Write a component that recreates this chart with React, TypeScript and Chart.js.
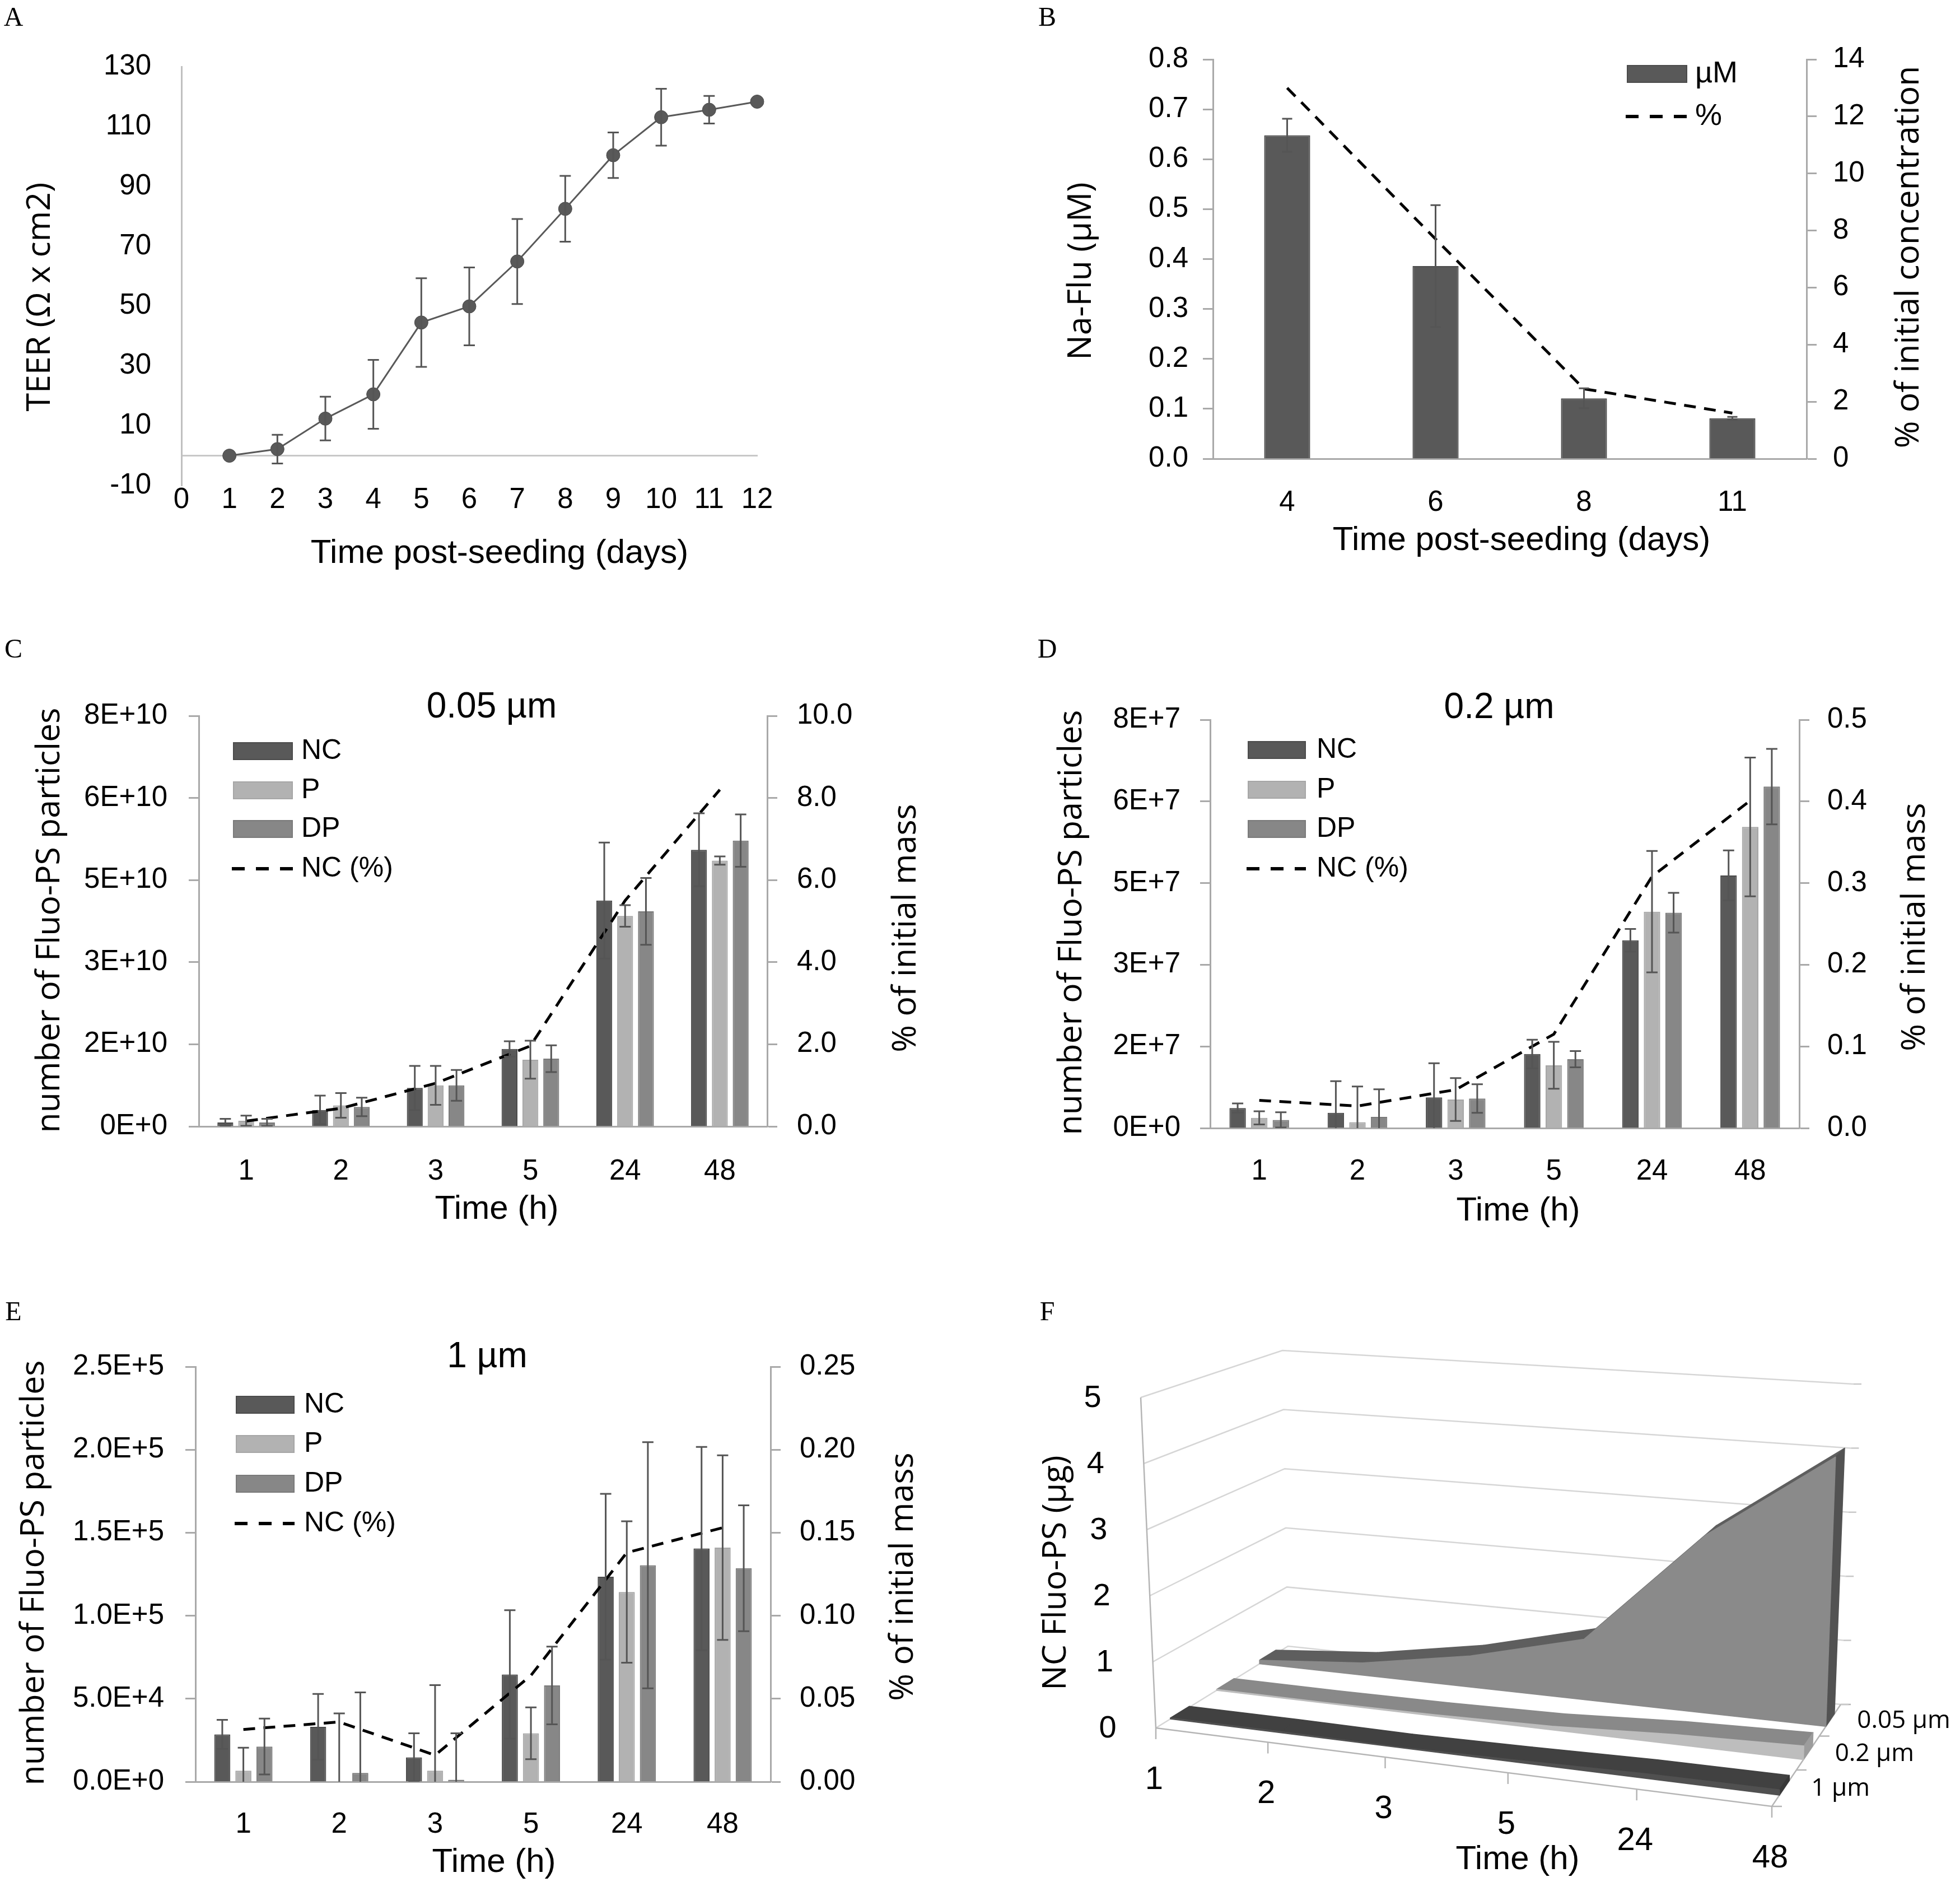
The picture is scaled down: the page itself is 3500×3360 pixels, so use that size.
import React, { useEffect, useRef } from 'react';
import { Chart, registerables } from 'chart.js';

Chart.register(...registerables);

// ---------------- DATA ----------------
// Panel A – TEER over time
const teerDays = [1, 2, 3, 4, 5, 6, 7, 8, 9, 10, 11, 12];
const teerValues = [0, 2.2, 12.4, 20.5, 44.5, 49.9, 64.9, 82.5, 100.4, 113.1, 115.6, 118.3];
const teerErrors = [0, 4.8, 7.3, 11.5, 14.8, 13.0, 14.2, 11.0, 7.6, 9.5, 4.6, 0];

// Panel B – Na-Flu permeability
const naFluDays = ['4', '6', '8', '11'];
const naFluMicroM = [0.648, 0.386, 0.121, 0.081];
const naFluErrors = [0.033, 0.122, 0.02, 0.003];
const naFluPercent = [13.0, 7.7, 2.45, 1.6];

// Panels C–F
const timeHours = ['1', '2', '3', '5', '24', '48'];

// C – 0.05 µm
const c005NC = [0.076e10, 0.32e10, 0.75e10, 1.51e10, 4.40e10, 5.39e10];
const c005NCErr = [0.07e10, 0.28e10, 0.43e10, 0.15e10, 1.13e10, 0.71e10];
const c005P = [0.11e10, 0.41e10, 0.80e10, 1.30e10, 4.10e10, 5.18e10];
const c005PErr = [0.10e10, 0.24e10, 0.38e10, 0.37e10, 0.21e10, 0.08e10];
const c005DP = [0.076e10, 0.38e10, 0.80e10, 1.32e10, 4.19e10, 5.57e10];
const c005DPErr = [0.07e10, 0.18e10, 0.30e10, 0.26e10, 0.65e10, 0.51e10];
const c005NCPct = [0.13, 0.44, 1.05, 1.96, 5.5, 8.2];

// D – 0.2 µm
const d02NC = [0.393e7, 0.30e7, 0.60e7, 1.45e7, 3.68e7, 4.95e7];
const d02NCErr = [0.09e7, 0.62e7, 0.67e7, 0.28e7, 0.22e7, 0.49e7];
const d02P = [0.20e7, 0.116e7, 0.56e7, 1.23e7, 4.24e7, 5.90e7];
const d02PErr = [0.13e7, 0.70e7, 0.42e7, 0.46e7, 1.19e7, 1.36e7];
const d02DP = [0.16e7, 0.22e7, 0.58e7, 1.35e7, 4.22e7, 6.69e7];
const d02DPErr = [0.15e7, 0.54e7, 0.28e7, 0.16e7, 0.39e7, 0.74e7];
const d02NCPct = [0.034, 0.027, 0.047, 0.115, 0.308, 0.401];

// E – 1 µm
const e1NC = [0.285e5, 0.331e5, 0.147e5, 0.646e5, 1.235e5, 1.405e5];
const e1NCErr = [0.088e5, 0.198e5, 0.145e5, 0.387e5, 0.499e5, 0.612e5];
const e1P = [0.067e5, 0.002e5, 0.067e5, 0.292e5, 1.143e5, 1.41e5];
const e1PErr = [0.138e5, 0.41e5, 0.515e5, 0.156e5, 0.426e5, 0.556e5];
const e1DP = [0.212e5, 0.053e5, 0.012e5, 0.58e5, 1.304e5, 1.286e5];
const e1DPErr = [0.168e5, 0.485e5, 0.28e5, 0.234e5, 0.741e5, 0.379e5];
const e1NCPct = [0.0315, 0.036, 0.016, 0.064, 0.138, 0.153];

// F – NC Fluo-PS mass (µg)
const fSizeLabels = ['0.05 µm', '0.2 µm', '1 µm'];
const f005Mass = [0.06, 0.2, 0.5, 0.95, 2.75, 4.1];
const f02Mass = [0.017, 0.013, 0.024, 0.057, 0.15, 0.2];
const f1Mass = [0.016, 0.018, 0.008, 0.032, 0.069, 0.077];
const fValueTicks = [0, 1, 2, 3, 4, 5];

// ---------------- STYLE ----------------
const SANS = "'Liberation Sans', Arial, sans-serif";
const OPEN = "'Open Sans', 'Noto Sans', sans-serif";
const SERIF = "'Liberation Serif', 'Times New Roman', serif";
const TICK_FONT = { family: SANS, size: 51, lineHeight: 1.2 };
const GREY = '#a9a9a9';
const NC_FILL = '#595959', NC_STROKE = '#4b4b4b';
const P_FILL = '#b2b2b2', P_STROKE = '#a6a6a6';
const DP_FILL = '#878787', DP_STROKE = '#7a7a7a';
const ERR_COLOR = '#555555';
const ROT = -Math.PI / 2;

// ---------------- PLUGINS ----------------
function makeTextPlugin(items: any[], ox: number, oy: number) {
  return {
    id: 'pageTexts',
    afterDraw(chart: any) {
      const ctx = chart.ctx;
      for (const it of items) {
        ctx.save();
        ctx.translate(it.x - ox, it.y - oy);
        if (it.rot) ctx.rotate(it.rot);
        ctx.font = it.font;
        ctx.fillStyle = it.color || '#000';
        ctx.textAlign = it.align || 'center';
        ctx.textBaseline = 'middle';
        ctx.fillText(it.text, 0, 0);
        ctx.restore();
      }
    },
  };
}

function makeLegendPlugin(items: any[], ox: number, oy: number) {
  return {
    id: 'pageLegend',
    afterDraw(chart: any) {
      const ctx = chart.ctx;
      for (const it of items) {
        const x = it.x - ox;
        const y = it.y - oy;
        ctx.save();
        if (it.kind === 'box') {
          ctx.fillStyle = it.fill;
          ctx.fillRect(x, y - it.h / 2, it.w, it.h);
          ctx.strokeStyle = it.stroke;
          ctx.lineWidth = 2;
          ctx.strokeRect(x + 1, y - it.h / 2 + 1, it.w - 2, it.h - 2);
        } else {
          ctx.strokeStyle = '#000';
          ctx.lineWidth = 6;
          ctx.setLineDash([23, 20]);
          ctx.beginPath();
          ctx.moveTo(x, y);
          ctx.lineTo(x + it.w, y);
          ctx.stroke();
          ctx.setLineDash([]);
        }
        ctx.fillStyle = '#000';
        ctx.font = it.font;
        ctx.textAlign = 'left';
        ctx.textBaseline = 'middle';
        ctx.fillText(it.label, it.tx - ox, y);
        ctx.restore();
      }
    },
  };
}

const errorBarPlugin = {
  id: 'errorBars',
  afterDatasetsDraw(chart: any) {
    const ctx = chart.ctx;
    const area = chart.chartArea;
    chart.data.datasets.forEach((ds: any, di: number) => {
      const errs = ds.errors;
      if (!errs) return;
      const meta = chart.getDatasetMeta(di);
      const ys = chart.scales[meta.yAxisID];
      const cap = ds.errorCap || 10;
      ctx.save();
      ctx.beginPath();
      ctx.rect(area.left - 40, area.top - 40, area.right - area.left + 80, area.bottom - area.top + 40);
      ctx.clip();
      ctx.strokeStyle = ERR_COLOR;
      ctx.lineWidth = 3;
      meta.data.forEach((el: any, i: number) => {
        const e = errs[i];
        if (!e) return;
        const v = meta.controller.getParsed(i).y;
        const x = el.x;
        const yt = ys.getPixelForValue(v + e);
        const yb = ys.getPixelForValue(v - e);
        ctx.beginPath();
        ctx.moveTo(x, yt);
        ctx.lineTo(x, yb);
        ctx.moveTo(x - cap, yt);
        ctx.lineTo(x + cap, yt);
        ctx.moveTo(x - cap, yb);
        ctx.lineTo(x + cap, yb);
        ctx.stroke();
      });
      ctx.restore();
    });
  },
};

// ---------------- LAYOUT ----------------
const RA = { x: 0, y: 0, w: 1700, h: 1100 };
const AA = { l: 324, t: 119, r: 1352, b: 867 };
const RB = { x: 1700, y: 0, w: 1800, h: 1100 };
const AB = { l: 2166, t: 106, r: 3226, b: 819 };
const RC = { x: 0, y: 1100, w: 1750, h: 1180 };
const AC = { l: 355, t: 1278, r: 1370, b: 2011 };
const RD = { x: 1750, y: 1100, w: 1750, h: 1180 };
const AD = { l: 2161, t: 1285, r: 3213, b: 2014 };
const RE = { x: 0, y: 2280, w: 1750, h: 1080 };
const AE = { l: 349, t: 2440, r: 1376, b: 3181 };
const RF = { x: 1750, y: 2280, w: 1750, h: 1080 };

// ---------------- PANEL A ----------------
function buildA() {
  const R = RA, A = AA;
  const texts = [
    { text: 'A', x: 24, y: 33, font: `48px ${SERIF}` },
    { text: 'TEER (Ω x cm2)', x: 72, y: 530, font: `59px ${OPEN}`, rot: ROT },
    { text: 'Time post-seeding (days)', x: 892, y: 988, font: `60px ${SANS}` },
  ];
  return {
    type: 'line',
    data: {
      datasets: [
        {
          data: teerDays.map((d, i) => ({ x: d, y: teerValues[i] })),
          errors: teerErrors,
          errorCap: 10,
          xAxisID: 'x',
          yAxisID: 'y',
          borderColor: '#595959',
          borderWidth: 3,
          pointRadius: 12,
          pointBackgroundColor: '#595959',
          pointBorderColor: '#4a4a4a',
          pointBorderWidth: 1,
          clip: false,
        },
      ],
    },
    options: {
      responsive: false,
      animation: false,
      events: [],
      layout: { padding: { top: A.t - R.y, right: R.x + R.w - A.r, left: 0, bottom: 0 } },
      scales: {
        x: {
          type: 'linear', min: 0, max: 12,
          ticks: { stepSize: 1, maxTicksLimit: 20, padding: -5, font: TICK_FONT, color: '#000' },
          grid: { display: false, drawTicks: false },
          border: { display: false },
          afterFit: (s: any) => { s.height = R.y + R.h - A.b; },
        },
        x0: {
          type: 'linear', axis: 'x', position: { y: 0 }, min: 0, max: 12,
          ticks: { display: false },
          grid: { display: false, drawTicks: false },
          border: { display: true, color: '#c8c8c8', width: 3 },
        },
        y: {
          type: 'linear', position: 'left', min: -10, max: 130,
          ticks: { stepSize: 20, maxTicksLimit: 11, padding: 54, font: TICK_FONT, color: '#000' },
          grid: { display: false, drawTicks: false },
          border: { display: true, color: '#c0c0c0', width: 3 },
          afterFit: (s: any) => { s.width = A.l - R.x; },
        },
      },
      plugins: { legend: { display: false }, tooltip: { enabled: false } },
    },
    plugins: [errorBarPlugin, makeTextPlugin(texts, R.x, R.y)],
  };
}

// ---------------- BAR PANELS (B–E) ----------------
function barConfig(o: any) {
  const R = o.rect, A = o.area;
  const yTick = (pad: number, fmt: any, step: number, lim: number) => ({
    stepSize: step, maxTicksLimit: lim, padding: pad, font: TICK_FONT, color: '#000', callback: (v: any) => fmt(Number(v)),
  });
  const yGrid = { display: true, drawOnChartArea: false, drawTicks: true, tickLength: 18, tickWidth: 3, tickColor: GREY };
  return {
    type: 'bar',
    data: {
      labels: o.labels,
      datasets: [
        {
          type: 'line', label: o.line.label, data: o.line.data, yAxisID: 'y2', xAxisID: 'x',
          borderColor: '#000', borderWidth: 5, borderDash: [21, 15], pointRadius: 0, fill: false, clip: false, order: 0,
        },
        ...o.bars.map((b: any) => ({
          type: 'bar', label: b.label, data: b.data, errors: b.errors, errorCap: o.cap, yAxisID: 'y', xAxisID: 'x',
          backgroundColor: b.fill, borderColor: b.stroke, borderWidth: 2,
          barPercentage: o.barPct, categoryPercentage: o.catPct, order: 1,
        })),
      ],
    },
    options: {
      responsive: false,
      animation: false,
      events: [],
      layout: { padding: { top: A.t - R.y, left: 0, right: 0, bottom: 0 } },
      scales: {
        x: {
          type: 'category', offset: true,
          ticks: { font: TICK_FONT, color: '#000', padding: o.xPad },
          grid: { display: false, drawTicks: false },
          border: { display: true, color: GREY, width: 3 },
          afterFit: (s: any) => { s.height = R.y + R.h - A.b; },
        },
        y: {
          type: 'linear', position: 'left', min: 0, max: o.y.max,
          ticks: yTick(o.y.pad, o.y.fmt, o.y.step, o.y.lim),
          grid: yGrid,
          border: { display: true, color: GREY, width: 3 },
          afterFit: (s: any) => { s.width = A.l - R.x; },
        },
        y2: {
          type: 'linear', position: 'right', min: 0, max: o.y2.max,
          ticks: yTick(o.y2.pad, o.y2.fmt, o.y2.step, o.y2.lim),
          grid: yGrid,
          border: { display: true, color: GREY, width: 3 },
          afterFit: (s: any) => { s.width = R.x + R.w - A.r; },
        },
      },
      plugins: { legend: { display: false }, tooltip: { enabled: false } },
    },
    plugins: [errorBarPlugin, makeTextPlugin(o.texts, R.x, R.y), makeLegendPlugin(o.legend, R.x, R.y)],
  };
}

const expFmt0 = (v: number) => (v === 0 ? '0E+0' : v.toExponential(0).replace('e', 'E'));
const expFmt1 = (v: number) => v.toExponential(1).replace('e', 'E');

function tripleLegend(boxX: number, textX: number, ys: number[], w: number) {
  const font = `50px ${SANS}`;
  return [
    { kind: 'box', x: boxX, y: ys[0], w, h: 32, fill: NC_FILL, stroke: NC_STROKE, label: 'NC', tx: textX, font },
    { kind: 'box', x: boxX, y: ys[1], w, h: 32, fill: P_FILL, stroke: P_STROKE, label: 'P', tx: textX, font },
    { kind: 'box', x: boxX, y: ys[2], w, h: 32, fill: DP_FILL, stroke: DP_STROKE, label: 'DP', tx: textX, font },
    { kind: 'dash', x: boxX - 2, y: ys[3], w: w + 2, label: 'NC (%)', tx: textX, font },
  ];
}

function tripleBars(nc: number[], ncE: number[], p: number[], pE: number[], dp: number[], dpE: number[]) {
  return [
    { label: 'NC', data: nc, errors: ncE, fill: NC_FILL, stroke: NC_STROKE },
    { label: 'P', data: p, errors: pE, fill: P_FILL, stroke: P_STROKE },
    { label: 'DP', data: dp, errors: dpE, fill: DP_FILL, stroke: DP_STROKE },
  ];
}

function buildB() {
  return barConfig({
    rect: RB, area: AB, labels: naFluDays,
    bars: [{ label: 'µM', data: naFluMicroM, errors: naFluErrors, fill: NC_FILL, stroke: NC_STROKE }],
    line: { label: '%', data: naFluPercent },
    barPct: 0.31, catPct: 1, cap: 9, xPad: 48,
    y: { max: 0.8, step: 0.1, lim: 11, pad: 26, fmt: (v: number) => v.toFixed(1) },
    y2: { max: 14, step: 2, lim: 11, pad: 29, fmt: (v: number) => String(Math.round(v)) },
    texts: [
      { text: 'B', x: 1870, y: 33, font: `48px ${SERIF}` },
      { text: 'Na-Flu (µM)', x: 1931, y: 484, font: `59px ${OPEN}`, rot: ROT },
      { text: '% of initial concentration', x: 3409, y: 459, font: `59px ${OPEN}`, rot: ROT },
      { text: 'Time post-seeding (days)', x: 2717, y: 965, font: `60px ${SANS}` },
    ],
    legend: [
      { kind: 'box', x: 2905, y: 132, w: 108, h: 32, fill: NC_FILL, stroke: NC_STROKE, label: 'µM', tx: 3027, font: `54px ${SANS}` },
      { kind: 'dash', x: 2903, y: 208, w: 110, label: '%', tx: 3027, font: `54px ${SANS}` },
    ],
  });
}

function buildC() {
  return barConfig({
    rect: RC, area: AC, labels: timeHours,
    bars: tripleBars(c005NC, c005NCErr, c005P, c005PErr, c005DP, c005DPErr),
    line: { label: 'NC (%)', data: c005NCPct },
    barPct: 0.76, catPct: 0.66, cap: 10, xPad: 50,
    y: { max: 8e10, step: 1.6e10, lim: 8, pad: 38, fmt: expFmt0 },
    y2: { max: 10, step: 2, lim: 8, pad: 35, fmt: (v: number) => v.toFixed(1) },
    texts: [
      { text: 'C', x: 24, y: 1161, font: `48px ${SERIF}` },
      { text: '0.05 µm', x: 878, y: 1263, font: `64px ${SANS}` },
      { text: 'number of Fluo-PS particles', x: 89, y: 1643, font: `59px ${OPEN}`, rot: ROT },
      { text: '% of initial mass', x: 1618, y: 1657, font: `59px ${OPEN}`, rot: ROT },
      { text: 'Time (h)', x: 887, y: 2159, font: `60px ${SANS}` },
    ],
    legend: tripleLegend(416, 538, [1341, 1411, 1480, 1551], 107),
  });
}

function buildD() {
  return barConfig({
    rect: RD, area: AD, labels: timeHours,
    bars: tripleBars(d02NC, d02NCErr, d02P, d02PErr, d02DP, d02DPErr),
    line: { label: 'NC (%)', data: d02NCPct },
    barPct: 0.76, catPct: 0.66, cap: 10, xPad: 47,
    y: { max: 8e7, step: 1.6e7, lim: 8, pad: 35, fmt: expFmt0 },
    y2: { max: 0.5, step: 0.1, lim: 8, pad: 32, fmt: (v: number) => v.toFixed(1) },
    texts: [
      { text: 'D', x: 1870, y: 1161, font: `48px ${SERIF}` },
      { text: '0.2 µm', x: 2677, y: 1264, font: `64px ${SANS}` },
      { text: 'number of Fluo-PS particles', x: 1914, y: 1647, font: `59px ${OPEN}`, rot: ROT },
      { text: '% of initial mass', x: 3420, y: 1655, font: `59px ${OPEN}`, rot: ROT },
      { text: 'Time (h)', x: 2711, y: 2162, font: `60px ${SANS}` },
    ],
    legend: tripleLegend(2228, 2351, [1339, 1410, 1480, 1551], 104),
  });
}

function buildE() {
  return barConfig({
    rect: RE, area: AE, labels: timeHours,
    bars: tripleBars(e1NC, e1NCErr, e1P, e1PErr, e1DP, e1DPErr),
    line: { label: 'NC (%)', data: e1NCPct },
    barPct: 0.76, catPct: 0.66, cap: 10, xPad: 46,
    y: { max: 2.5e5, step: 0.5e5, lim: 8, pad: 38, fmt: expFmt1 },
    y2: { max: 0.25, step: 0.05, lim: 8, pad: 34, fmt: (v: number) => v.toFixed(2) },
    texts: [
      { text: 'E', x: 24, y: 2344, font: `48px ${SERIF}` },
      { text: '1 µm', x: 870, y: 2423, font: `64px ${SANS}` },
      { text: 'number of Fluo-PS particles', x: 61, y: 2808, font: `59px ${OPEN}`, rot: ROT },
      { text: '% of initial mass', x: 1613, y: 2815, font: `59px ${OPEN}`, rot: ROT },
      { text: 'Time (h)', x: 882, y: 3325, font: `60px ${SANS}` },
    ],
    legend: tripleLegend(421, 543, [2508, 2578, 2649, 2720], 105),
  });
}

// ---------------- PANEL F (3-D area, oblique projection) ----------------
const F_FL0 = [2064, 3085], F_FL5 = [2037, 2495];
const F_BL0 = [2300, 2939], F_BL5 = [2290, 2411];
const F_FR0 = [3164, 3225], F_FR5 = [3178, 2585];
const F_BR0 = [3287, 3043], F_BR5 = [3310, 2471];
const F_VMAX = 5;
const uAt = (i: number) => { const t = i / (timeHours.length - 1); return t / (1.124 - 0.124 * t); };
const wAt = (t: number) => t / (0.9006 + 0.0994 * t);
const lerp = (a: number, b: number, t: number) => a + (b - a) * t;
function proj(u: number, w: number, v: number) {
  const h = v / F_VMAX;
  const P = (c0: number[], c5: number[]) => [lerp(c0[0], c5[0], h), lerp(c0[1], c5[1], h)];
  const FL = P(F_FL0, F_FL5), FR = P(F_FR0, F_FR5), BL = P(F_BL0, F_BL5), BR = P(F_BR0, F_BR5);
  const fx = lerp(FL[0], FR[0], u), fy = lerp(FL[1], FR[1], u);
  const bx = lerp(BL[0], BR[0], u), by = lerp(BL[1], BR[1], u);
  return [lerp(fx, bx, w), lerp(fy, by, w)];
}

const fSeries = [
  { label: fSizeLabels[0], values: f005Mass, slot: 2, front: '#8a8a8a', top: '#5e5e5e', side: '#525252' },
  { label: fSizeLabels[1], values: f02Mass, slot: 1, front: '#bdbdbd', top: '#898989', side: '#9c9c9c' },
  { label: fSizeLabels[2], values: f1Mass, slot: 0, front: '#505050', top: '#414141', side: '#383838' },
];

function buildF() {
  const R = RF;
  const lx = (p: number[]) => ({ x: p[0] - R.x, y: p[1] - R.y });
  const ds: any[] = [];
  const seg = (pts: number[][], color: string, width: number) =>
    ds.push({ data: pts.map(lx), borderColor: color, borderWidth: width, fill: false, pointRadius: 0, clip: false });
  const poly = (pts: number[][], color: string) =>
    ds.push({
      data: [...pts, pts[0]].map(lx), borderColor: color, backgroundColor: color, borderWidth: 1.5,
      fill: 'shape', pointRadius: 0, clip: false, borderJoinStyle: 'round',
    });

  // walls & floor
  fValueTicks.forEach((v) => seg([proj(0, 0, v), proj(0, 1, v), proj(1, 1, v)], '#d6d6d6', 2.5));
  seg([proj(0, 0, 0), proj(0, 0, F_VMAX)], '#b5b5b5', 2.5);
  seg([proj(0, 0, 0), proj(1, 0, 0), proj(1, 1, 0)], '#b5b5b5', 2.5);
  timeHours.forEach((_, i) => { const p = proj(uAt(i), 0, 0); seg([p, [p[0], p[1] + 20]], '#b5b5b5', 2.5); });
  [0, 1, 2, 3].forEach((k) => { const p = proj(1, wAt(k / 3), 0); seg([p, [p[0] + 18, p[1]]], '#b5b5b5', 2.5); });
  fValueTicks.forEach((v) => { const p = proj(1, 1, v); seg([p, [p[0] + 14, p[1]]], '#c8c8c8', 2.5); });

  // slabs, back to front
  fSeries.forEach((s) => {
    const wf = wAt((s.slot + 0.3) / 3), wb = wAt((s.slot + 0.7) / 3);
    const vals = s.values;
    const n = vals.length - 1;
    for (let i = 0; i < n; i++) {
      poly([proj(uAt(i), wf, vals[i]), proj(uAt(i + 1), wf, vals[i + 1]), proj(uAt(i + 1), wb, vals[i + 1]), proj(uAt(i), wb, vals[i])], s.top);
    }
    poly([proj(1, wf, 0), proj(1, wb, 0), proj(1, wb, vals[n]), proj(1, wf, vals[n])], s.side);
    const front = [proj(0, wf, 0), proj(1, wf, 0)];
    for (let i = n; i >= 0; i--) front.push(proj(uAt(i), wf, vals[i]));
    poly(front, s.front);
  });
  ds.reverse();

  const texts: any[] = [
    { text: 'F', x: 1870, y: 2344, font: `48px ${SERIF}` },
    { text: 'NC Fluo-PS (µg)', x: 1886, y: 2808, font: `59px ${OPEN}`, rot: ROT },
    { text: 'Time (h)', x: 2710, y: 3320, font: `60px ${SANS}` },
    ...fValueTicks.map((v) => { const p = proj(0, 0, v); return { text: String(v), x: p[0] - 86, y: p[1] + 2, font: `56px ${SANS}` }; }),
    ...timeHours.map((t, i) => { const p = proj(uAt(i), 0, 0); return { text: t, x: p[0] - 3, y: p[1] + 93, font: `58px ${SANS}` }; }),
    ...fSeries.map((s) => { const p = proj(1, wAt((s.slot + 0.5) / 3), 0); return { text: s.label, x: p[0] + 48, y: p[1] + 2, font: `44px ${OPEN}`, align: 'left' }; }),
  ];

  return {
    type: 'line',
    data: { datasets: ds },
    options: {
      responsive: false,
      animation: false,
      events: [],
      layout: { padding: 0 },
      elements: { line: { tension: 0 }, point: { radius: 0 } },
      scales: {
        x: { type: 'linear', min: 0, max: R.w, display: false },
        y: { type: 'linear', min: 0, max: R.h, reverse: true, display: false },
      },
      plugins: { legend: { display: false }, tooltip: { enabled: false } },
    },
    plugins: [makeTextPlugin(texts, R.x, R.y)],
  };
}

// ---------------- COMPONENTS ----------------
function ChartPanel({ rect, build }: { rect: any; build: () => any }) {
  const ref = useRef<HTMLCanvasElement>(null);
  useEffect(() => {
    const chart = new Chart(ref.current as HTMLCanvasElement, build() as any);
    return () => chart.destroy();
  }, []);
  return (
    <canvas
      ref={ref}
      width={rect.w}
      height={rect.h}
      style={{ position: 'absolute', left: rect.x, top: rect.y, width: rect.w, height: rect.h }}
    />
  );
}

export default function App() {
  return (
    <div style={{ position: 'absolute', left: 0, top: 0, width: 3500, height: 3360, background: '#fff', overflow: 'hidden' }}>
      <ChartPanel rect={RA} build={buildA} />
      <ChartPanel rect={RB} build={buildB} />
      <ChartPanel rect={RC} build={buildC} />
      <ChartPanel rect={RD} build={buildD} />
      <ChartPanel rect={RE} build={buildE} />
      <ChartPanel rect={RF} build={buildF} />
    </div>
  );
}
